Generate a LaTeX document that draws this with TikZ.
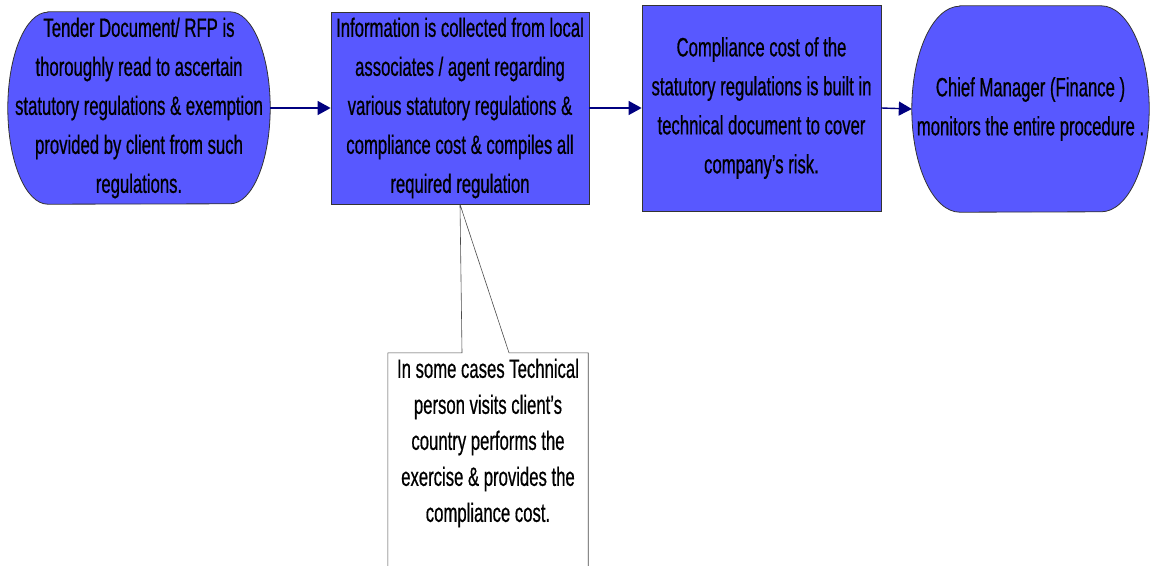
\documentclass[tikz,border=0pt]{standalone}
\usepackage{fontspec}
\setmainfont[FakeStretch=0.63,FakeBold=0.6]{Liberation Sans}
\usetikzlibrary{arrows.meta,backgrounds}
\definecolor{boxblue}{RGB}{88,88,255}
\definecolor{arrownavy}{RGB}{0,0,128}
\tikzset{
	flowtext/.style={align=center, inner sep=0pt, font=\fontsize{26.5}{39}\selectfont},
	blockbox/.style={flowtext, draw=black!80, line width=0.8pt, fill=boxblue},
	endshape/.style={draw=black!80, line width=0.8pt, fill=boxblue},
	flow/.style={draw=arrownavy, line width=1.4pt, -{Triangle[length=13pt,width=14pt]}},
	calloutline/.style={draw=black!70, line width=0.6pt, fill=white},
}

\begin{document}
\begin{tikzpicture}[x=1pt,y=-1pt]
	\useasboundingbox (0,0) rectangle (1153,565);
	\clip (0,0) rectangle (1153,565);
	% the four steps
	\node[flowtext, minimum width=262pt, minimum height=192pt] (tender) at (139,108)
		{Tender Document/ RFP is\\thoroughly read to ascertain\\statutory regulations \& exemption\\provided by client from such\\regulations.};
	\node[blockbox, minimum width=258pt, minimum height=192pt] (collect) at (460,108)
		{Information is collected from local\\associates / agent regarding\\various statutory regulations \&\\compliance cost \& compiles all\\required regulation};
	\node[blockbox, minimum width=239pt, minimum height=206pt] (compliance) at (761.5,108)
		{Compliance cost of the\\statutory regulations is built in\\technical document to cover\\company’s risk.};
	\node[flowtext, minimum width=237pt, minimum height=206pt] (chief) at (1030.5,109)
		{Chief Manager (Finance )\\monitors the entire procedure .};
	% rounded ends
	\begin{scope}[on background layer]
		\path[endshape] ([xshift=40pt]tender.north west) -- ([xshift=-40pt]tender.north east)
			arc[start angle=90, end angle=-90, x radius=40pt, y radius=96pt]
			-- ([xshift=40pt]tender.south west)
			arc[start angle=270, end angle=90, x radius=40pt, y radius=96pt] -- cycle;
		\path[endshape] ([xshift=48pt]chief.north west) -- ([xshift=-48pt]chief.north east)
			arc[start angle=90, end angle=-90, x radius=48pt, y radius=103pt]
			-- ([xshift=48pt]chief.south west)
			arc[start angle=270, end angle=90, x radius=48pt, y radius=103pt] -- cycle;
	\end{scope}
	\draw[flow] (tender) -- (collect);
	\draw[flow] (collect) -- (compliance);
	\draw[flow] (compliance.east) -- (chief.west);
	% callout
	\node[flowtext, font=\fontsize{26.5}{36}\selectfont, minimum width=200pt, minimum height=180pt] (visit) at (488,443)
		{In some cases Technical\\person visits client’s\\country performs the\\exercise \& provides the\\compliance cost.};
	\begin{scope}[on background layer]
		\path[calloutline] ([yshift=-60pt]visit.south west) -- (visit.north west)
			-- ([xshift=-26pt]visit.north) -- (collect.south) -- ([xshift=21pt]visit.north)
			-- (visit.north east) -- ([yshift=-60pt]visit.south east);
	\end{scope}
\end{tikzpicture}
\end{document}
